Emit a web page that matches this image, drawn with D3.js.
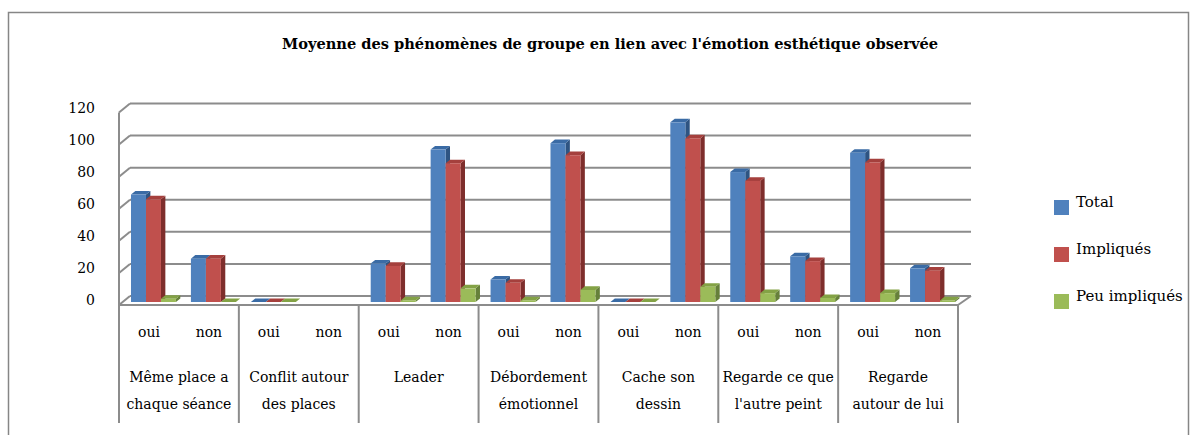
<!DOCTYPE html>
<html>
<head>
<meta charset="utf-8">
<script src="https://cdnjs.cloudflare.com/ajax/libs/d3/7.8.5/d3.min.js"></script>
<style>
  body { margin: 0; background: #fff; }
  text { font-family: "DejaVu Serif", "Liberation Serif", serif; fill: #000; }
</style>
</head>
<body>
<script>
var title = "Moyenne des phénomènes de groupe en lien avec l'émotion esthétique observée";

var groups = [
  ["Même place a", "chaque séance"],
  ["Conflit autour", "des places"],
  ["Leader"],
  ["Débordement", "émotionnel"],
  ["Cache son", "dessin"],
  ["Regarde ce que", "l'autre peint"],
  ["Regarde", "autour de lui"]
];
var subs = ["oui", "non"];
var seriesNames = ["Total", "Impliqués", "Peu impliqués"];

// values in order: group1 oui, group1 non, group2 oui, ...
var total      = [67, 27, 0, null, 24, 95, 14, 99, 0, 112, 81, 28.5, 93, 21];
var impliques  = [64, 27, 0, null, 22.5, 86.5, 12, 91.5, 0, 102, 75.5, 25.5, 87, 19.5];
var peuImpl    = [2, 0, 0, null, 1, 8.5, 1, 7.5, 0, 9.5, 5.5, 2.5, 5.5, 1];

var yTicks = [0, 20, 40, 60, 80, 100, 120];

var colors = {
  "Total":         { front: "#4F81BD", side: "#2E5482", top: "#3A6BA5" },
  "Impliqués":     { front: "#C0504D", side: "#7E2E2C", top: "#A5403D" },
  "Peu impliqués": { front: "#9BBB59", side: "#66803A", top: "#83A245" }
};

var W = 1196, H = 435;
var depthX = 11, depthY = 9;      // floor depth (front -> back)
var barDX = 4.4, barDY = 3.6;      // bar depth
var front = { left: 119, right: 958, floor: 305 };

var svg = d3.select("body").append("svg")
  .attr("width", W).attr("height", H);

// outer frame
svg.append("rect")
  .attr("x", 8.5).attr("y", 12.5)
  .attr("width", 1180).attr("height", 440)
  .attr("fill", "none").attr("stroke", "#868686").attr("stroke-width", 1.5);

svg.append("text")
  .attr("x", 610).attr("y", 49)
  .attr("text-anchor", "middle")
  .style("font-weight", "bold")
  .style("font-size", "14.6px")
  .text(title);

var x0 = d3.scaleBand()
  .domain(d3.range(groups.length))
  .range([front.left, front.right]);

var x1 = d3.scaleBand()
  .domain(subs)
  .range([0, x0.bandwidth()]);

var xs = d3.scaleBand()
  .domain(seriesNames)
  .range([0, x1.bandwidth()])
  .paddingOuter(0.5);

// y on the back wall
var y = d3.scaleLinear().domain([0, 120]).range([front.floor - depthY, 103.5]);

var grid = "#8C8C8C";

// back wall gridlines + left wall diagonals
yTicks.forEach(function(t) {
  var yb = y(t);
  svg.append("line")
    .attr("x1", front.left + depthX).attr("x2", front.right + depthX + 2)
    .attr("y1", yb).attr("y2", yb)
    .attr("stroke", grid).attr("stroke-width", 2);
  svg.append("line")
    .attr("x1", front.left).attr("y1", yb + depthY)
    .attr("x2", front.left + depthX).attr("y2", yb)
    .attr("stroke", grid).attr("stroke-width", 2);
  svg.append("text")
    .attr("x", 95).attr("y", yb + depthY / 2)
    .attr("dy", "0.35em")
    .attr("text-anchor", "end")
    .style("font-size", "14px")
    .text(t);
});

// left wall vertical edge
svg.append("line")
  .attr("x1", front.left).attr("x2", front.left)
  .attr("y1", y(120) + depthY).attr("y2", front.floor)
  .attr("stroke", grid).attr("stroke-width", 2);

// floor front edge and right diagonal
svg.append("line")
  .attr("x1", front.left).attr("x2", front.right)
  .attr("y1", front.floor).attr("y2", front.floor)
  .attr("stroke", grid).attr("stroke-width", 2);
svg.append("line")
  .attr("x1", front.right).attr("y1", front.floor)
  .attr("x2", front.right + depthX + 2).attr("y2", front.floor - depthY)
  .attr("stroke", grid).attr("stroke-width", 2);

// bars
var series = [total, impliques, peuImpl];
var barShiftX = 4.5, barShiftY = -3; // bar front face relative to floor front edge
var bars = svg.append("g");

groups.forEach(function(g, gi) {
  subs.forEach(function(s, si) {
    var idx = gi * 2 + si;
    seriesNames.forEach(function(name, k) {
      var v = series[k][idx];
      if (v === null) return;
      var c = colors[name];
      var xl = x0(gi) + x1(s) + xs(name) + barShiftX;
      var w = xs.bandwidth();
      var yBot = y(0) + depthY + barShiftY;
      var yTop = y(v) + depthY + barShiftY;
      // side face
      bars.append("path")
        .attr("d", "M" + (xl + w) + "," + yBot +
          "L" + (xl + w + barDX) + "," + (yBot - barDY) +
          "L" + (xl + w + barDX) + "," + (yTop - barDY) +
          "L" + (xl + w) + "," + yTop + "Z")
        .attr("fill", c.side);
      // top face
      bars.append("path")
        .attr("d", "M" + xl + "," + yTop +
          "L" + (xl + barDX) + "," + (yTop - barDY) +
          "L" + (xl + w + barDX) + "," + (yTop - barDY) +
          "L" + (xl + w) + "," + yTop + "Z")
        .attr("fill", c.top);
      // front face
      bars.append("rect")
        .attr("x", xl).attr("y", yTop)
        .attr("width", w).attr("height", yBot - yTop)
        .attr("fill", c.front);
    });
  });
});

// category axis
var axisBottom = 423;
d3.range(groups.length + 1).forEach(function(i) {
  var xx = i < groups.length ? x0(i) : front.right;
  svg.append("line")
    .attr("x1", xx).attr("x2", xx)
    .attr("y1", front.floor).attr("y2", axisBottom)
    .attr("stroke", grid).attr("stroke-width", 2);
});

groups.forEach(function(g, gi) {
  subs.forEach(function(s) {
    svg.append("text")
      .attr("x", x0(gi) + x1(s) + x1.bandwidth() / 2)
      .attr("y", 337)
      .attr("text-anchor", "middle")
      .style("font-size", "14px")
      .text(s);
  });
  g.forEach(function(line, li) {
    svg.append("text")
      .attr("x", x0(gi) + x0.bandwidth() / 2)
      .attr("y", 382 + li * 27)
      .attr("text-anchor", "middle")
      .style("font-size", "14px")
      .text(line);
  });
});

// legend
var legend = svg.selectAll(".legend")
  .data(seriesNames)
  .enter().append("g")
  .attr("class", "legend")
  .attr("transform", function(d, i) { return "translate(1054," + (200 + i * 47) + ")"; });

legend.append("rect")
  .attr("width", 15).attr("height", 15)
  .attr("fill", function(d) { return colors[d].front; });

legend.append("text")
  .attr("x", 22).attr("y", 7)
  .style("font-size", "15px")
  .text(function(d) { return d; });
</script>
</body>
</html>
